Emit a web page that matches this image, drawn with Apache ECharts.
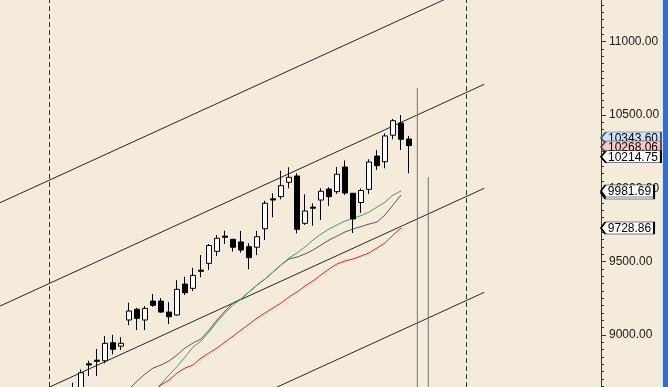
<!DOCTYPE html>
<html><head><meta charset="utf-8">
<script src="https://cdn.jsdelivr.net/npm/echarts@6/dist/echarts.min.js"></script>
<style>html,body{margin:0;padding:0;background:#F4EBDB;}#c{width:668px;height:387px;}</style>
</head><body><div id="c"></div>
<script>
// ---- data ----
const candleX = [9,10,11,12,13,14,15,16,17,18,19,20,21,22,23,24,25,26,27,28,29,30,31,32,33,34,35,36,37,38,39,40,41,42,43,44,45,46,47,48,49,50,51];
const opens  = [8600,8620,8803,8828,8824,8947,8924,9102,9175,9102,9231,9231,9156,9136,9347,9318,9442,9488,9570,9674,9652,9634,9602,9598,9724,9928,9943,10041,10084,9761,9872,9920,9995,9977,10145,9966,9903,9993,10220,10181,10362,10445,10336];
const closes = [8630,8742,8795,8820,8943,8902,8943,9163,9113,9181,9202,9156,9124,9311,9288,9406,9434,9610,9659,9666,9598,9579,9527,9670,9898,9920,10018,10075,9720,9845,9864,9980,9943,10096,9968,9791,9985,10179,10154,10357,10461,10334,10291];
const lows   = [8585,8600,8720,8720,8806,8868,8897,9067,9033,9033,9192,9151,9074,9131,9272,9299,9393,9443,9538,9620,9568,9561,9448,9545,9647,9802,9925,10000,9693,9750,9745,9784,9879,9961,9954,9695,9832,9961,10125,10136,10334,10261,10102];
const highs  = [8674,8765,8824,8904,8992,9001,8984,9220,9185,9197,9279,9252,9224,9374,9397,9458,9545,9620,9681,9711,9655,9709,9625,9709,9915,9966,10120,10143,10102,9959,9898,10000,10007,10145,10190,9966,9999,10198,10261,10375,10473,10500,10357];

const greenStart = 19;
const greenMA = [8610,8665,8727,8784,8849,8917,8958,9020,9088,9149,9204,9245,9293,9340,9381,9429,9477,9524,9559,9600,9647,9688,9722,9750,9777,9794,9814,9838,9872,9906,9954,9981.69];
const grayStart = 15;
const grayMA = [8590,8631,8685,8733,8774,8795,8822,8863,8911,8945,8972,9033,9102,9163,9218,9245,9293,9340,9381,9429,9477,9518,9531,9552,9579,9613,9647,9674,9702,9722,9739,9756,9770,9818,9886,9954];
const redStart = 19;
const redMA = [8617,8658,8692,8740,8774,8795,8842,8876,8911,8952,8992,9033,9074,9115,9149,9184,9218,9258,9293,9334,9368,9409,9449,9484,9504,9518,9538,9559,9593,9627,9681,9728.86];

// parallel channel lines
const channelX = [-0.125, 60.41];
const channelStart = [9901.7, 9197, 8490.4, 7781];
const channelEnd   = [11411.3, 10709.4, 10000.0, 9290.5];

// dashed vertical markers and solid vertical lines
const dashedX = [6.09, 58.16];
const vLineX = [52.04, 53.41];
const vLineTop = [10684, 10077];

// price tags on the axis (drawn in this order, later on top)
const tagValues = [10343.60, 10268.06, 10214.75, 9954.32, 9981.69, 9728.86];
const tagKinds  = ['blue', 'pink', 'white', 'white', 'white', 'white'];

const yTicks = [9000, 9500, 10000, 10500, 11000];
const yMin = 8645, yMax = 11284;
const minorTicks = [];
for (let v = 8650; v <= 11250; v += 50) minorTicks.push(v);

// ---- build ----
const candleData = candleX.map((x, i) => [x, opens[i], closes[i], lows[i], highs[i]]);
const maData = (start, arr) => arr.map((v, i) => [start + i, v]);

const series = [];
channelStart.forEach((s, i) => {
  series.push({
    type: 'line', silent: true, symbol: 'none',
    data: [[channelX[0], s], [channelX[1], channelEnd[i]]],
    lineStyle: { color: '#262626', width: 1 }, z: 2
  });
});
vLineX.forEach((x, i) => {
  series.push({
    type: 'line', silent: true, symbol: 'none',
    data: [[x, vLineTop[i]], [x, yMin]],
    lineStyle: { color: '#707070', width: 1 }, z: 2
  });
});
series.push({
  type: 'line', silent: true, symbol: 'none', data: [],
  markLine: {
    silent: true, symbol: ['none', 'none'], label: { show: false },
    lineStyle: { color: '#333', width: 1, type: [5, 3] },
    data: dashedX.map(x => ({ xAxis: x }))
  }
});
series.push({ type: 'line', symbol: 'none', data: maData(grayStart, grayMA), lineStyle: { color: '#5a5a5a', width: 1 }, z: 3 });
series.push({ type: 'line', symbol: 'none', data: maData(greenStart, greenMA), lineStyle: { color: '#3f9e68', width: 1 }, z: 3 });
series.push({ type: 'line', symbol: 'none', data: maData(redStart, redMA), lineStyle: { color: '#ff1a1a', width: 1 }, z: 3 });
series.push({
  type: 'candlestick', data: candleData, barWidth: 6,
  dimensions: ['x', 'open', 'close', 'low', 'high'],
  encode: { x: 0, y: [1, 2, 3, 4] },
  itemStyle: { color: '#ffffff', color0: '#000000', borderColor: '#000000', borderColor0: '#000000', borderWidth: 1 },
  z: 4
});
const tagStyle = {
  blue: { fill: '#cfe3f6', stroke: '#4a5a6a' },
  pink: { fill: '#f5c9c9', stroke: '#6a4a4a' },
  white: { fill: '#ffffff', stroke: '#000000' }
};
const tagDy = [0, -2, 0, -2, 0, 0];
tagValues.forEach((v, i) => {
  const txt = v.toFixed(2);
  const w = txt.length >= 8 ? 60 : 53;
  series.push({
    type: 'scatter', clip: false, silent: true, z: 10 + i * 2,
    data: [{
      value: [75, v],
      symbol: 'path://M0,6L5,0L60,0L60,12L5,12Z',
      symbolSize: [w, 12],
      symbolOffset: [w / 2, tagDy[i]],
      itemStyle: { color: tagStyle[tagKinds[i]].fill, borderColor: tagStyle[tagKinds[i]].stroke, borderWidth: 1, opacity: 1 },
      label: {
        show: true, position: 'inside', offset: [2, 0.5], formatter: txt,
        color: '#000', fontFamily: 'Liberation Sans, Arial, sans-serif', fontSize: 12
      }
    }]
  });
});

const chart = echarts.init(document.getElementById('c'), null, { renderer: 'canvas' });
chart.setOption({
  animation: false,
  backgroundColor: '#F4EBDB',
  grid: [
    { left: 0, right: 67, top: 0, bottom: 0, containLabel: false },
    { left: 0, right: 67, top: 0, bottom: 0, containLabel: false }
  ],
  xAxis: [
    { type: 'value', gridIndex: 0, min: -0.125, max: 75, show: false },
    { type: 'value', gridIndex: 1, min: -0.125, max: 75, show: false }
  ],
  yAxis: [{
    type: 'value', gridIndex: 0, position: 'right', min: yMin, max: yMax, scale: true,
    axisLine: { show: true, onZero: false, lineStyle: { color: '#333', width: 1 } },
    axisTick: { show: true, length: 5, customValues: yTicks, lineStyle: { color: '#333' } },
    axisLabel: { show: true, margin: 8, customValues: yTicks, formatter: v => v.toFixed(2), color: '#1a1a1a', fontFamily: 'Liberation Sans, Arial, sans-serif', fontSize: 12 },
    splitLine: { show: false }
  }, {
    type: 'value', gridIndex: 1, position: 'right', min: yMin, max: yMax, scale: true,
    axisLine: { show: false, onZero: false },
    axisTick: { show: true, length: 3, customValues: minorTicks, lineStyle: { color: '#333' } },
    axisLabel: { show: false },
    splitLine: { show: false }
  }],
  graphic: [
    { type: 'rect', right: 0, top: 0, shape: { width: 5, height: 387 }, style: { fill: '#2a6fd2' }, z: 100 },
    { type: 'rect', right: 5, top: 0, shape: { width: 1, height: 387 }, style: { fill: '#d9e3ee' }, z: 100 }
  ],
  series: series
});
</script></body></html>
